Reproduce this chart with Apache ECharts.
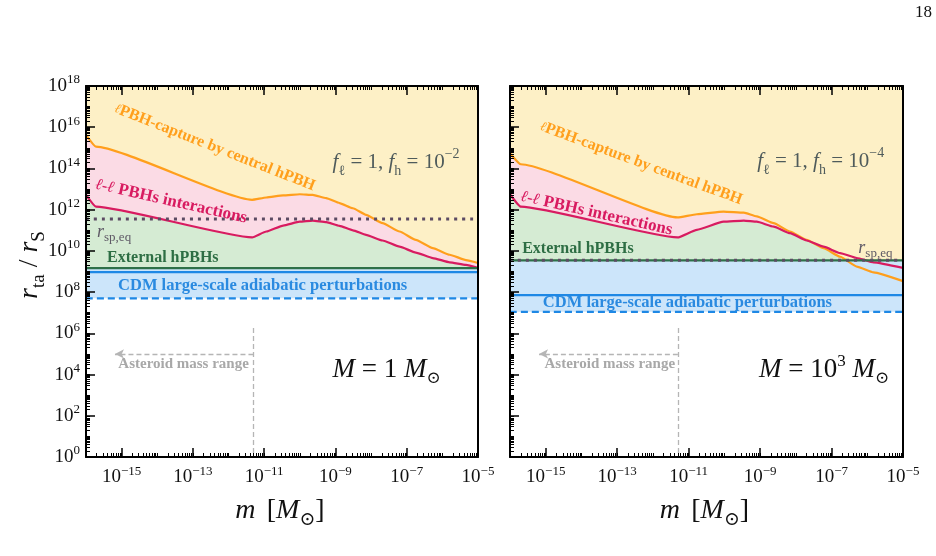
<!DOCTYPE html>
<html>
<head>
<meta charset="utf-8">
<script src="https://cdn.jsdelivr.net/npm/echarts@6/dist/echarts.min.js"></script>
<style>html,body{margin:0;background:#fff}#main{width:936px;height:556px}</style>
</head>
<body>
<div id="main"></div>
<script>
/* data */
// left panel, M = 1 Msun
var massL = [1e-16, 1.9e-16, 4.6e-12, 1.15e-11, 3.4e-11, 1e-10, 2.3e-10, 5.5e-10, 1.3e-9, 3.1e-9, 7.2e-9, 2.1e-8, 6.3e-8, 1.8e-7, 5.4e-7, 1.6e-6, 4.6e-6, 1e-5]
var captureL = [4.3e15, 1.15e15, 3.0e12, 3.9e12, 4.9e12, 5.6e12, 5.2e12, 3.6e12, 2.1e12, 1.17e12, 5.6e11, 2.2e11, 8.7e10, 3.4e10, 1.35e10, 6.5e9, 3.6e9, 2.6e9]
var interactL = [5.2e12, 1.4e12, 4.5e10, 8.7e10, 1.7e11, 2.6e11, 2.95e11, 2.5e11, 1.65e11, 1.0e11, 6.0e10, 3.2e10, 1.6e10, 8.3e9, 4.5e9, 2.8e9, 2.1e9, 1.5e9]
// right panel, M = 1e3 Msun
var massR = [1e-16, 2e-16, 4.9e-12, 1.7e-11, 9.5e-11, 3.5e-10, 8.1e-10, 2.4e-9, 6.9e-9, 2.0e-8, 6.0e-8, 1.74e-7, 5.1e-7, 1.5e-6, 1e-5]
var captureR = [5.5e14, 1.6e14, 4.2e11, 6.0e11, 8.1e11, 7.2e11, 4.7e11, 2.2e11, 8.7e10, 3.4e10, 1.35e10, 5.2e9, 1.74e9, 9.1e8, 3.4e8]
var interactR = [5.6e12, 1.4e12, 4.5e10, 1.05e11, 2.6e11, 2.95e11, 2.6e11, 1.5e11, 7.2e10, 3.2e10, 1.6e10, 7.8e9, 4.5e9, 2.8e9, 1.5e9]
// horizontal levels [left, right]
var externalLevel = [1.45e9, 3.5e9]
var cdmTop = [9.3e8, 7.2e7]
var cdmBottom = [5e7, 1.1e7]
var rspeq = [3.5e11, 3.5e9]
// asteroid mass range marker
var asteroidEdge = 5e-12
var asteroidTip = 6.5e-16
var asteroidLevel = 1e5
var asteroidTop = 1.8e6
// axes
var xRange = [1e-16, 1e-5]
var yRange = [1, 1e18]
var xTickExp = [-15, -13, -11, -9, -7, -5]
var yTickExp = [0, 2, 4, 6, 8, 10, 12, 14, 16, 18]
var fhExp = ['−2', '−4']
var hostMass = ['1', '10']
var hostExp = ['', '3']

var SERIF = "'Liberation Serif', 'DejaVu Serif', serif"
var myChart = echarts.init(document.getElementById('main'))

function pts(xs, ys) { return xs.map(function (x, i) { return [x, ys[i]] }) }
function flat(v) { return [[xRange[0], v], [xRange[1], v]] }
// tick values pulled a hair inside the axis range so the end ticks are kept
function inside(v, range) {
  if (v >= range[1] * (1 - 1e-6)) return range[1] * (1 - 1e-9)
  if (v <= range[0] * (1 + 1e-6)) return range[0] * (1 + 1e-9)
  return v
}
function minorVals(range) {
  var lo = Math.round(Math.log10(range[0])), hi = Math.round(Math.log10(range[1])), v = []
  for (var e = lo; e < hi; e++) for (var k = 1; k < 10; k++) v.push(inside(k * Math.pow(10, e), range))
  v.push(inside(range[1], range))
  return v
}
function expLabel(v) {
  var e = Math.round(Math.log10(v))
  return '{b|10}{s|' + (e < 0 ? '−' + (-e) : e) + '}'
}
var tickRich = {
  b: { fontFamily: SERIF, fontSize: 19, lineHeight: 25, color: '#111' },
  s: { fontFamily: SERIF, fontSize: 13, lineHeight: 13, verticalAlign: 'top', color: '#111' }
}
var grids = [
  { left: 86, top: 86, width: 392, height: 371 },
  { left: 510, top: 86, width: 393, height: 371 }
]
var xMajor = xTickExp.map(function (e) { return inside(Math.pow(10, e), xRange) })
var yMajor = yTickExp.map(function (e) { return inside(Math.pow(10, e), yRange) })
var lineBlack = { show: true, lineStyle: { color: '#000', width: 2 } }

var xAxes = [], yAxes = [], series = []
grids.forEach(function (g, p) {
  var xBase = { type: 'log', logBase: 10, min: xRange[0], max: xRange[1], gridIndex: p, z: 10, splitLine: { show: false } }
  xAxes.push(Object.assign({}, xBase, {
    position: 'bottom', axisLine: lineBlack,
    axisTick: { inside: true, length: 9, customValues: xMajor, lineStyle: { color: '#000', width: 1.5 } },
    axisLabel: { customValues: xMajor, formatter: expLabel, rich: tickRich, margin: 8 }
  }))
  xAxes.push(Object.assign({}, xBase, {
    position: 'bottom', axisLine: { show: false }, axisLabel: { show: false },
    axisTick: { inside: true, length: 4, customValues: minorVals(xRange), lineStyle: { color: '#000', width: 1 } }
  }))
  xAxes.push(Object.assign({}, xBase, {
    position: 'top', axisLine: lineBlack, axisLabel: { show: false },
    axisTick: { inside: true, length: 9, customValues: xMajor, lineStyle: { color: '#000', width: 1.5 } }
  }))
  xAxes.push(Object.assign({}, xBase, {
    position: 'top', axisLine: { show: false }, axisLabel: { show: false },
    axisTick: { inside: true, length: 4, customValues: minorVals(xRange), lineStyle: { color: '#000', width: 1 } }
  }))
  var yBase = { type: 'log', logBase: 10, min: yRange[0], max: yRange[1], gridIndex: p, z: 10, splitLine: { show: false } }
  yAxes.push(Object.assign({}, yBase, {
    position: 'left', axisLine: lineBlack,
    axisTick: { inside: true, length: 9, customValues: yMajor, lineStyle: { color: '#000', width: 1.5 } },
    axisLabel: { show: p === 0, customValues: yMajor, formatter: expLabel, rich: tickRich, margin: 6 }
  }))
  yAxes.push(Object.assign({}, yBase, {
    position: 'left', axisLine: { show: false }, axisLabel: { show: false },
    axisTick: { inside: true, length: 4, customValues: minorVals(yRange), lineStyle: { color: '#000', width: 1 } }
  }))
  yAxes.push(Object.assign({}, yBase, {
    position: 'right', axisLine: lineBlack, axisTick: { show: false }, axisLabel: { show: false }
  }))

  var xi = p * 4, yi = p * 3
  var mass = p === 0 ? massL : massR
  var cap = pts(mass, p === 0 ? captureL : captureR)
  var inter = pts(mass, p === 0 ? interactL : interactR)
  function area(data, origin, color, z) {
    return { type: 'line', xAxisIndex: xi, yAxisIndex: yi, data: data, symbol: 'none', smooth: 0.15, smoothMonotone: 'x',
      lineStyle: { width: 0 }, areaStyle: { origin: origin, color: color, opacity: 1 }, z: z, silent: true }
  }
  function line(data, color, width, type, z) {
    return { type: 'line', xAxisIndex: xi, yAxisIndex: yi, data: data, symbol: 'none', smooth: 0.15, smoothMonotone: 'x',
      lineStyle: { color: color, width: width, type: type || 'solid' }, z: z, silent: true }
  }
  series.push(area(inter, 'start', '#d5ebd3', 1))
  series.push(area(inter, 'end', '#fbdbe5', 1))
  series.push(area(cap, 'end', '#fdf0c6', 2))
  series.push(area(flat(externalLevel[p]), 'start', '#cce5fa', 3))
  series.push(area(flat(cdmBottom[p]), 'start', '#ffffff', 3))
  series.push(line(cap, '#ff9f1c', 2.2, null, 5))
  series.push(line(inter, '#d81b60', 2.2, null, 5))
  series.push(line(flat(externalLevel[p]), '#2e7048', 2.2, null, 5))
  series.push(line(flat(cdmTop[p]), '#1e88e5', 2.2, null, 5))
  series.push(line(flat(cdmBottom[p]), '#1e88e5', 2.2, [7, 4], 5))
  var dots = line(flat(rspeq[p]), '#5c4b63', 3, [3, 5], 6)
  dots.markLine = {
    silent: true, symbol: 'none', label: { show: false },
    lineStyle: { color: '#b5b5b5', width: 1.3, type: [5, 3] },
    data: [
      [{ coord: [asteroidEdge, asteroidTop] }, { coord: [asteroidEdge, yRange[0]] }],
      [{ coord: [asteroidEdge, asteroidLevel], symbol: 'none' }, { coord: [asteroidTip, asteroidLevel], symbol: 'arrow', symbolSize: [7, 9] }]
    ]
  }
  series.push(dots)
})

myChart.setOption({
  animation: false,
  grid: grids,
  xAxis: xAxes,
  yAxis: yAxes,
  series: series
})

/* text annotations placed in data coordinates */
var annot = [
  // [panel, text key, m, r, downward slope in degrees, align]
  [0, 'capture', Math.pow(10, -12.39), Math.pow(10, 15.02), 21.5, 'center'],
  [0, 'interact', Math.pow(10, -13.61), Math.pow(10, 12.40), 12.7, 'center'],
  [0, 'fl', Math.pow(10, -9.08), Math.pow(10, 14.27), 0, 'left'],
  [0, 'rsp', Math.pow(10, -15.69), Math.pow(10, 10.92), 0, 'left'],
  [0, 'ext', Math.pow(10, -15.41), Math.pow(10, 9.66), 0, 'left'],
  [0, 'cdm', Math.pow(10, -15.10), Math.pow(10, 8.32), 0, 'left'],
  [0, 'host', Math.pow(10, -9.08), Math.pow(10, 4.22), 0, 'left'],
  [0, 'ast', Math.pow(10, -11.43), Math.pow(10, 4.51), 0, 'right'],
  [1, 'capture', Math.pow(10, -12.33), Math.pow(10, 14.25), 20.3, 'center'],
  [1, 'interact', Math.pow(10, -13.58), Math.pow(10, 11.82), 12.7, 'center'],
  [1, 'fl', Math.pow(10, -9.08), Math.pow(10, 14.32), 0, 'left'],
  [1, 'rsp', Math.pow(10, -6.25), Math.pow(10, 10.15), 0, 'left'],
  [1, 'ext', Math.pow(10, -15.66), Math.pow(10, 10.10), 0, 'left'],
  [1, 'cdm', Math.pow(10, -15.08), Math.pow(10, 7.48), 0, 'left'],
  [1, 'host', Math.pow(10, -9.03), Math.pow(10, 4.22), 0, 'left'],
  [1, 'ast', Math.pow(10, -11.38), Math.pow(10, 4.51), 0, 'right']
]
function bold(size, color) { return { fontFamily: SERIF, fontWeight: 'bold', fontSize: size, fill: color } }
function textFor(key, p) {
  switch (key) {
    case 'capture': return { text: '{l|ℓ}PBH-capture by central hPBH', rich: { l: { fontFamily: SERIF, fontStyle: 'italic', fontSize: 13, fill: '#ff9f1c' } }, s: bold(16, '#ff9f1c') }
    case 'interact': return { text: '{l|ℓ-ℓ} PBHs interactions', rich: { l: { fontFamily: SERIF, fontStyle: 'italic', fontWeight: 'bold', fontSize: 16, fill: '#d81b60' } }, s: bold(17, '#d81b60') }
    case 'ext': return { text: 'External hPBHs', s: bold(16, '#2e6e44') }
    case 'cdm': return { text: 'CDM large-scale adiabatic perturbations', s: bold(16.5, '#2a8ae0') }
    case 'ast': return { text: 'Asteroid mass range', s: bold(15, '#a8a8a8') }
    case 'rsp': return {
      text: '{i|r}{sub|sp,eq}',
      rich: { i: { fontFamily: SERIF, fontStyle: 'italic', fontSize: 18, lineHeight: 24, fill: '#5f5a66' }, sub: { fontFamily: SERIF, fontSize: 13, lineHeight: 13, verticalAlign: 'bottom', fill: '#5f5a66' } },
      s: { fontFamily: SERIF, fontSize: 18, fill: '#5f5a66' }
    }
    case 'fl':
      var c = '#4f5b5b'
      return {
        text: '{i|f}{sub|ℓ}{n| = 1, }{i|f}{sub|h}{n| = 10}{sup|' + fhExp[p] + '}',
        rich: {
          i: { fontFamily: SERIF, fontStyle: 'italic', fontSize: 21, lineHeight: 31, fill: c },
          n: { fontFamily: SERIF, fontSize: 21, lineHeight: 31, fill: c },
          sub: { fontFamily: SERIF, fontSize: 14, lineHeight: 14, verticalAlign: 'bottom', fill: c },
          sup: { fontFamily: SERIF, fontSize: 14, lineHeight: 14, verticalAlign: 'top', fill: c }
        },
        s: { fontFamily: SERIF, fontSize: 21, fill: c }
      }
    case 'host':
      return {
        text: '{i|M}{n| = ' + hostMass[p] + '}' + (hostExp[p] ? '{sup|' + hostExp[p] + '}' : '') + '{n| }{i|M}{sub|⊙}',
        rich: {
          i: { fontFamily: SERIF, fontStyle: 'italic', fontSize: 27, lineHeight: 34, fill: '#111' },
          n: { fontFamily: SERIF, fontSize: 27, lineHeight: 34, fill: '#111' },
          sub: { fontFamily: SERIF, fontSize: 17, lineHeight: 17, verticalAlign: 'bottom', fill: '#111' },
          sup: { fontFamily: SERIF, fontSize: 17, lineHeight: 17, verticalAlign: 'top', fill: '#111' }
        },
        s: { fontFamily: SERIF, fontSize: 27, fill: '#111' }
      }
  }
}
var graphics = annot.map(function (a) {
  var px = myChart.convertToPixel({ xAxisIndex: a[0] * 4, yAxisIndex: a[0] * 3 }, [a[2], a[3]])
  var t = textFor(a[1], a[0])
  var style = Object.assign({}, t.s, { text: t.text, x: 0, y: 0, align: a[5], verticalAlign: 'middle' })
  if (t.rich) style.rich = t.rich
  // zrender turns positive angles anticlockwise, so a downward slope is negative
  return { type: 'text', x: px[0], y: px[1], rotation: -a[4] * Math.PI / 180, z: 20, silent: true, style: style }
})
// axis titles and page number
var titleRich = {
  i: { fontFamily: SERIF, fontStyle: 'italic', fontSize: 28, lineHeight: 38, fill: '#111' },
  n: { fontFamily: SERIF, fontSize: 28, lineHeight: 38, fill: '#111' },
  sub: { fontFamily: SERIF, fontSize: 19, lineHeight: 19, verticalAlign: 'bottom', fill: '#111' }
}
grids.forEach(function (g) {
  graphics.push({ type: 'text', x: g.left + g.width / 2 - 2, y: 511, z: 20, silent: true,
    style: { text: '{i|m}{n|\u2009\u2009[}{i|M}{sub|⊙}{n|]}', rich: titleRich, align: 'center', verticalAlign: 'middle', x: 0, y: 0 } })
})
graphics.push({ type: 'text', x: 30, y: 265, rotation: Math.PI / 2, z: 20, silent: true,
  style: { text: '{i|r}{sub|ta}{n| / }{i|r}{sub|S}', rich: titleRich, align: 'center', verticalAlign: 'middle', x: 0, y: 0 } })
graphics.push({ type: 'text', x: 932, y: 13, z: 20, silent: true,
  style: { text: '18', fontFamily: SERIF, fontSize: 17, fill: '#111', align: 'right', verticalAlign: 'middle', x: 0, y: 0 } })

myChart.setOption({ graphic: graphics })
</script>
</body>
</html>
